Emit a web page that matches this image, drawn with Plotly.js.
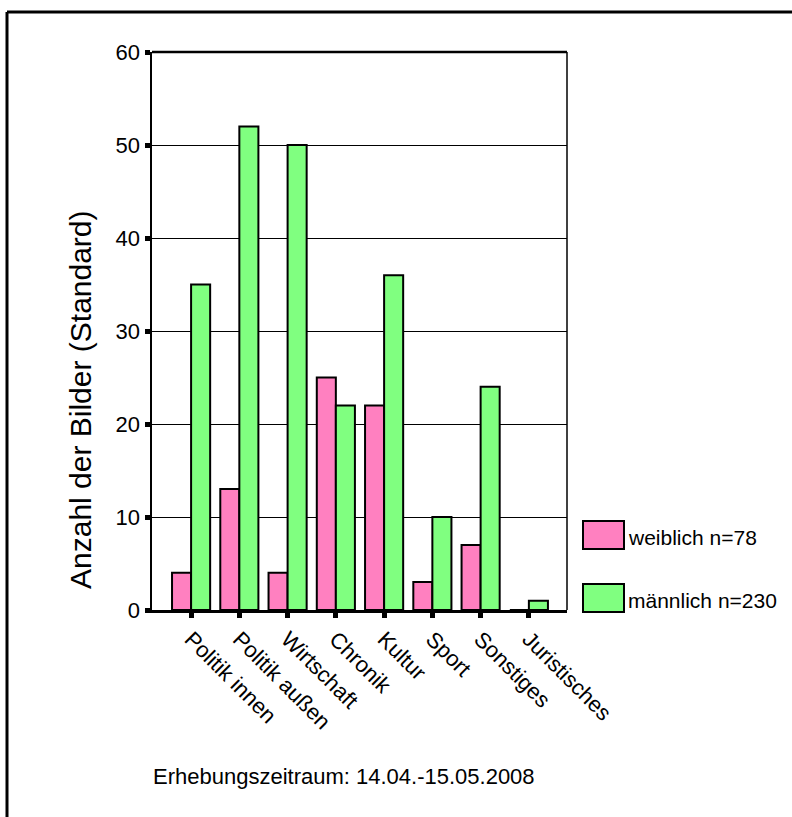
<!DOCTYPE html>
<html>
<head>
<meta charset="utf-8">
<script src="https://cdn.plot.ly/plotly-3.0.1.min.js"></script>
<style>
  html, body { margin: 0; padding: 0; background: #fff; }
  #chart { width: 792px; height: 817px; }
</style>
</head>
<body>
<div id="chart"></div>
<script>
// Themenbereiche und Anzahl der Bilder je Geschlecht
const categories = ["Politik innen", "Politik außen", "Wirtschaft", "Chronik", "Kultur", "Sport", "Sonstiges", "Juristisches"];
const weiblich = [4, 13, 4, 25, 22, 3, 7, 0];
const maennlich = [35, 52, 50, 22, 36, 10, 24, 1];
const seriesNames = ["weiblich n=78", "männlich n=230"];
const yTicks = [0, 10, 20, 30, 40, 50, 60];
const caption = "Erhebungszeitraum: 14.04.-15.05.2008";
const yTitle = "Anzahl der Bilder (Standard)";

const W = 792, H = 817;
const M = { l: 152, r: 225, t: 52, b: 207 };
const PW = W - M.l - M.r, PH = H - M.t - M.b;
// pixel -> paper coordinates
const px = x => (x - M.l) / PW;
const py = y => (H - M.b - y) / PH;

const FONT = "Liberation Sans, Arial, sans-serif";
const PINK = "#FF80C0", GREEN = "#80FF80";

const traces = [
  { type: "bar", name: seriesNames[0], x: categories, y: weiblich,
    marker: { color: PINK, line: { color: "#000", width: 2 } } },
  { type: "bar", name: seriesNames[1], x: categories, y: maennlich,
    marker: { color: GREEN, line: { color: "#000", width: 2 } } }
];

// Legend drawn as boxes with labels to the right of the plot
const legendBoxes = [
  { x0: 583, x1: 624, y0: 521, y1: 549, color: PINK },
  { x0: 583, x1: 624, y0: 584, y1: 612, color: GREEN }
];

const shapes = [
  // outer frame (left and top edges)
  { type: "line", xref: "paper", yref: "paper", x0: px(7), x1: px(W + 5), y0: py(12), y1: py(12), line: { color: "#000", width: 3 } },
  { type: "line", xref: "paper", yref: "paper", x0: px(7), x1: px(7), y0: py(12), y1: py(H + 5), line: { color: "#000", width: 3 } },
  // plot frame: top and right
  { type: "line", xref: "paper", yref: "paper", x0: 0, x1: 1, y0: 1, y1: 1, line: { color: "#000", width: 2.5 } },
  { type: "line", xref: "paper", yref: "paper", x0: 1, x1: 1, y0: 0, y1: 1, line: { color: "#000", width: 1.5 } }
];
legendBoxes.forEach(b => shapes.push({
  type: "rect", xref: "paper", yref: "paper",
  x0: px(b.x0), x1: px(b.x1), y0: py(b.y1), y1: py(b.y0),
  fillcolor: b.color, line: { color: "#000", width: 2 }
}));

const annotations = [
  { xref: "paper", yref: "paper", x: px(626), y: py(537), xanchor: "left", yanchor: "middle",
    text: seriesNames[0], showarrow: false, font: { family: FONT, size: 21, color: "#000" } },
  { xref: "paper", yref: "paper", x: px(626), y: py(600), xanchor: "left", yanchor: "middle",
    text: seriesNames[1], showarrow: false, font: { family: FONT, size: 21, color: "#000" } },
  { xref: "paper", yref: "paper", x: px(151), y: py(776), xanchor: "left", yanchor: "middle",
    text: caption, showarrow: false, font: { family: FONT, size: 22, color: "#000" } },
  // y-axis title, placed low beside the axis
  { xref: "paper", yref: "paper", x: px(80), y: py(400), xanchor: "center", yanchor: "middle",
    textangle: -90, text: yTitle, showarrow: false, font: { family: FONT, size: 30, color: "#000" } }
];

const layout = {
  width: W, height: H,
  margin: M,
  paper_bgcolor: "#fff", plot_bgcolor: "#fff",
  showlegend: false,
  barmode: "group", bargap: 0.21, bargroupgap: 0,
  font: { family: FONT, color: "#000" },
  xaxis: {
    type: "category", range: [-0.81, 7.79],
    showgrid: false, zeroline: false,
    showline: true, linecolor: "#000", linewidth: 2.5,
    ticks: "outside", ticklen: 5, tickwidth: 5, tickcolor: "#000",
    tickangle: 45, tickfont: { family: FONT, size: 22, color: "#000" }
  },
  yaxis: {
    range: [0, 60], tickvals: yTicks, ticktext: yTicks.map(String),
    showgrid: true, gridcolor: "#000", gridwidth: 1,
    zeroline: false,
    showline: true, linecolor: "#000", linewidth: 2.5,
    ticks: "outside", ticklen: 5, tickwidth: 5, tickcolor: "#000",
    tickfont: { family: FONT, size: 22, color: "#000" }
  },
  shapes: shapes,
  annotations: annotations
};

Plotly.newPlot("chart", traces, layout, { staticPlot: true, displayModeBar: false });
</script>
</body>
</html>
